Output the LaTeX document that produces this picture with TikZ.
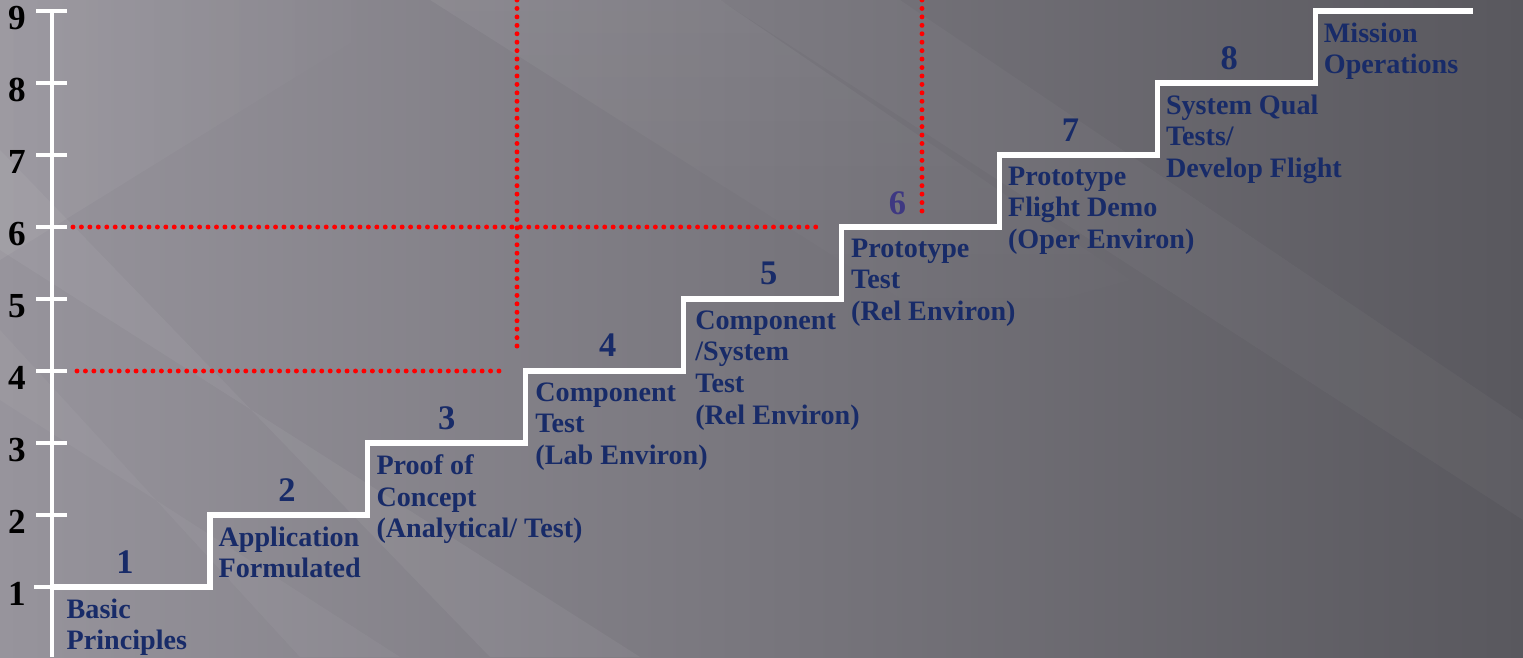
\documentclass[tikz,border=0pt]{standalone}
\usepackage{fontspec}
\setmainfont{Liberation Serif}
\usetikzlibrary{positioning,fadings}
\definecolor{trlblue}{HTML}{182B68}
\definecolor{trlpurple}{HTML}{3E3882}
\definecolor{bgleft}{HTML}{97949C}
\definecolor{bgright}{HTML}{59585E}
\tikzset{
  stair/.style={white, line width=1.5pt},
  axisline/.style={white, line width=1.1pt},
  guide/.style={red, line width=1.4pt, dash pattern=on 0pt off 2.4pt, line cap=round},
  levelnum/.style={font=\fontsize{9.8}{10}\selectfont\bfseries, text=trlblue, inner sep=0pt, anchor=base},
  axisnum/.style={font=\fontsize{10}{10}\selectfont\bfseries, text=black, inner sep=0pt},
  stepbox/.style={font=\fontsize{8}{9}\selectfont\bfseries, text=trlblue, align=left, inner sep=0pt},
  sheen/.style={white, opacity=#1},
}
\begin{document}
\begin{tikzpicture}[x=0.01cm, y=-0.01cm]
    \useasboundingbox (0,0) rectangle (1523,657);

    % Background
    \shade[left color=bgleft, right color=bgright] (0,0) rectangle (1523,657);
    \fill[sheen=0.06, path fading=east] (0,0) -- (420,0) -- (0,260) -- cycle;
    \fill[sheen=0.05] (0,150) -- (0,250) -- (640,657) -- (490,657) -- cycle;
    \fill[sheen=0.04] (0,330) -- (0,400) -- (400,657) -- (300,657) -- cycle;
    \fill[sheen=0.06, path fading=south] (430,0) -- (720,0) -- (1130,280) -- (950,330) -- cycle;
    \fill[sheen=0.03] (720,0) -- (900,0) -- (1523,420) -- (1523,520) -- cycle;

    % Step corners
    \foreach \i in {1,...,9} {
        \coordinate (s\i) at ({52+157.9*(\i-1)},{587-72*(\i-1)});
      }

    % Axis and ticks
    \draw[axisline] (52,657) -- (52,10);
    \foreach \n in {1,...,9} {
        \node[axisnum] (ax\n) at (17,{594-72*(\n-1)}) {\n};
      }
    \foreach \n in {2,...,9} {
        \draw[axisline] (36,{587-72*(\n-1)}) -- (67,{587-72*(\n-1)});
      }
    \draw[axisline] (34,587) -- (s1);

    % Red guide lines
    \draw[guide] (73,227) -- (820,227);
    \draw[guide] (77,371) -- (505,371);
    \draw[guide] (517,0) -- (517,353);
    \draw[guide] (922,0) -- (922,215);

    % Staircase
    \draw[stair] (s1) -| (s2) -| (s3) -| (s4) -| (s5) -| (s6) -| (s7) -| (s8) -| (s9) -- ++(158,0);

    % Level numbers
    \foreach \i/\dx in {1/0.73, 2/0.77, 3/0.79, 4/0.82, 5/0.85, 7/0.71, 8/0.72} {
        \node[levelnum] (num\i) at ([xshift=\dx cm, yshift=0.14cm]s\i) {\i};
      }
    \node[levelnum, text=trlpurple] (num6) at ([xshift=0.56cm, yshift=0.13cm]s6) {6};

    % Step descriptions
    \foreach \i/\dx/\txt in {1/0.14/{Basic\\Principles},
        2/0.08/{Application\\Formulated},
        3/0.08/{Proof of\\Concept\\(Analytical/ Test)},
        4/0.09/{Component\\Test\\(Lab Environ)},
        5/0.11/{Component\\/System\\Test\\(Rel Environ)},
        6/0.09/{Prototype\\Test\\(Rel Environ)},
        7/0.08/{Prototype\\Flight Demo\\(Oper Environ)},
        8/0.08/{System Qual\\Tests/\\Develop Flight},
        9/0.08/{Mission\\Operations}} {
        \node[stepbox, below right=0.11cm and \dx cm of s\i] (lab\i) {\txt};
      }
  \end{tikzpicture}
\end{document}
